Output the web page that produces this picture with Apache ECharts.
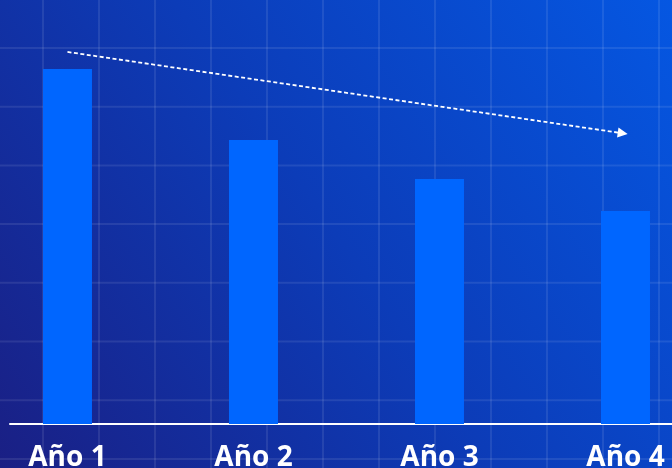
<!DOCTYPE html>
<html>
<head>
<meta charset="utf-8">
<script src="https://cdn.jsdelivr.net/npm/echarts@6/dist/echarts.min.js"></script>
<style>
html,body{margin:0;padding:0;width:672px;height:468px;overflow:hidden;}
#c{width:672px;height:468px;}
</style>
</head>
<body>
<div id="c"></div>
<script>
var categories = ['Año 1', 'Año 2', 'Año 3', 'Año 4'];
var values = [100, 80, 69, 60];
var trendStart = [0, 104.8];
var trendEnd = [2.985, 81.9];

var W = 672, H = 468;
var chart = echarts.init(document.getElementById('c'), null, {renderer: 'canvas'});

// decorative background grid pattern
var bg = [];
bg.push({
  type: 'rect', z: -10, silent: true,
  shape: {x: 0, y: 0, width: W, height: H},
  style: {fill: new echarts.graphic.LinearGradient(0, 1, 1, 0, [
    {offset: 0, color: '#1a1f84'},
    {offset: 0.5, color: '#0c3cb8'},
    {offset: 1, color: '#0557e2'}
  ])}
});
for (var x = 43; x < W; x += 56) {
  bg.push({type: 'line', z: -9, silent: true,
    shape: {x1: x, y1: 0, x2: x, y2: H},
    style: {stroke: 'rgba(255,255,255,0.09)', lineWidth: 2}});
}
for (var y = 48; y < H; y += 58.7) {
  bg.push({type: 'line', z: -9, silent: true,
    shape: {x1: 0, y1: y, x2: W, y2: y},
    style: {stroke: 'rgba(255,255,255,0.09)', lineWidth: 2}});
}

var barData = values.map(function (v, i) { return [i, v]; });

chart.setOption({
  animation: false,
  backgroundColor: 'transparent',
  graphic: bg,
  grid: {left: 10, right: 0, top: 33.5, bottom: 44, containLabel: false, outerBoundsMode: 'none'},
  xAxis: {
    type: 'value',
    min: -0.309,
    max: 3.25,
    splitLine: {show: false},
    axisLine: {show: true, onZero: false, lineStyle: {color: '#ffffff', width: 2}},
    axisTick: {show: false},
    axisLabel: {
      show: true,
      customValues: [0, 1, 2, 3],
      formatter: function (v) { return categories[Math.round(v)]; },
      color: '#ffffff',
      fontFamily: 'Open Sans',
      fontWeight: 'bold',
      fontSize: 28,
      margin: 20
    }
  },
  yAxis: {
    type: 'value',
    min: 0,
    max: 110,
    show: false,
    splitLine: {show: false}
  },
  series: [{
    type: 'bar',
    data: barData,
    barWidth: 49,
    itemStyle: {color: '#0066ff'},
    markLine: {
      silent: true,
      symbol: ['none', 'triangle'],
      symbolSize: [10, 10],
      label: {show: false},
      lineStyle: {color: '#ffffff', type: [4, 2.5], width: 1.8, opacity: 1},
      data: [[{coord: trendStart}, {coord: trendEnd}]]
    }
  }]
});
</script>
</body>
</html>
